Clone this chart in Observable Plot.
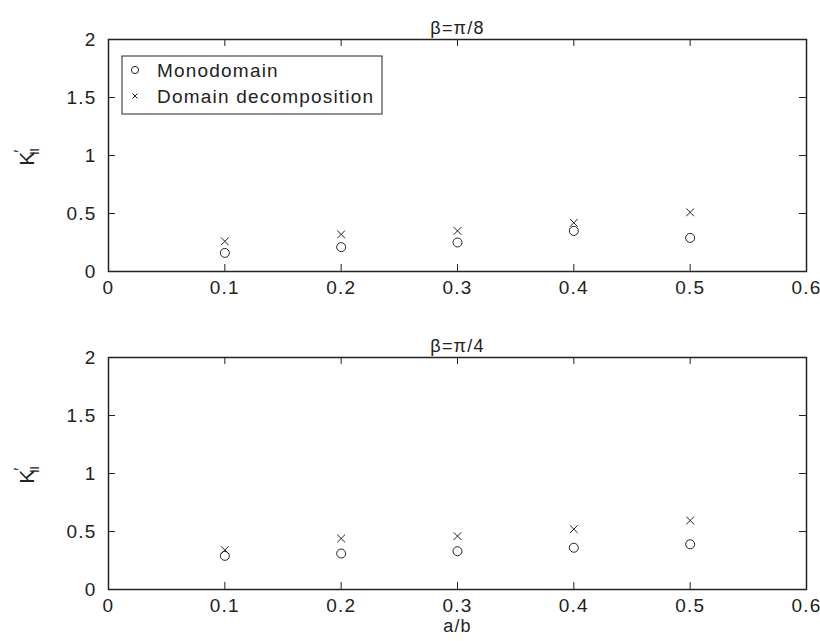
<!DOCTYPE html>
<html><head><meta charset="utf-8">
<script src="https://cdn.jsdelivr.net/npm/d3@7"></script>
<script src="https://cdn.jsdelivr.net/npm/@observablehq/plot@0.6"></script>
<style>
body{margin:0;background:#fff}
#chart{width:820px;height:641px;letter-spacing:1.2px}
#chart svg{display:block}
</style>
</head><body><div id="chart"></div><script>
// ---- data ----
const ratios = [0.1, 0.2, 0.3, 0.4, 0.5];
const monoPi8 = [0.16, 0.21, 0.25, 0.35, 0.29];
const ddPi8   = [0.26, 0.32, 0.35, 0.42, 0.51];
const monoPi4 = [0.29, 0.31, 0.33, 0.36, 0.39];
const ddPi4   = [0.34, 0.44, 0.46, 0.52, 0.595];
const xTicks = [0, 0.1, 0.2, 0.3, 0.4, 0.5, 0.6];
const yTicks = [0, 0.5, 1, 1.5, 2];
const seriesNames = ["Monodomain", "Domain decomposition"];
const panelTitles = ["β=π/8", "β=π/4"];
const xLabel = "a/b";

const INK = "#222";
const FONT = "Liberation Sans, Arial, sans-serif";

function decorations(showLegend) {
  return (index, scales, values, dims) => {
    const g = d3.create("svg:g").attr("fill", INK).attr("font-family", FONT).attr("text-anchor", "start");
    const fx = dims.marginLeft, fy = dims.marginTop;
    const fh = dims.height - dims.marginTop - dims.marginBottom;
    // y label K'_II
    const t = g.append("text")
      .attr("transform", `translate(34,${fy + fh / 2 + 2}) rotate(-90)`)
      .attr("text-anchor", "middle")
      .attr("font-size", 21)
      .attr("letter-spacing", 0);
    t.append("tspan").text("K");
    t.append("tspan").attr("font-size", 16).attr("dy", -8).attr("dx", -1).text("′");
    t.append("tspan").attr("font-size", 12).attr("dx", -5).attr("dy", 13).text("II");
    if (showLegend) {
      const bx = fx + 14, by = fy + 17, bw = 260, bh = 58;
      g.append("rect").attr("x", bx).attr("y", by).attr("width", bw).attr("height", bh)
        .attr("fill", "#fff").attr("stroke", INK).attr("stroke-width", 1);
      const rows = [by + 14, by + 40];
      g.append("circle").attr("cx", bx + 13).attr("cy", rows[0]).attr("r", 3.6)
        .attr("fill", "none").attr("stroke", INK).attr("stroke-width", 1);
      g.append("path").attr("d", `M${bx+10.5},${rows[1]-2.5}L${bx+15.5},${rows[1]+2.5}M${bx+10.5},${rows[1]+2.5}L${bx+15.5},${rows[1]-2.5}`)
        .attr("stroke", INK).attr("stroke-width", 1);
      seriesNames.forEach((name, i) => {
        g.append("text").attr("x", bx + 35).attr("y", rows[i]).attr("dy", "0.35em")
          .attr("text-anchor", "start")
          .attr("font-size", 19).text(name);
      });
    }
    return g.node();
  };
}

function panel({title, mono, dd, height, marginTop, marginBottom, legend, xlab}) {
  const innerH = height - marginTop - marginBottom;
  const innerW = 820 - 108 - 14;
  const monoData = ratios.map((r, i) => ({x: r, y: mono[i]}));
  const ddData = ratios.map((r, i) => ({x: r, y: dd[i]}));
  const marks = [
    Plot.frame({stroke: INK, strokeWidth: 1.5}),
    Plot.tickX(xTicks, {x: d => d, stroke: INK, strokeWidth: 1, insetTop: innerH - 7}),
    Plot.tickX(xTicks, {x: d => d, stroke: INK, strokeWidth: 1, insetBottom: innerH - 7}),
    Plot.tickY(yTicks, {y: d => d, stroke: INK, strokeWidth: 1, insetRight: innerW - 7}),
    Plot.tickY(yTicks, {y: d => d, stroke: INK, strokeWidth: 1, insetLeft: innerW - 7}),
    Plot.axisX({ticks: xTicks, tickSize: 0, tickPadding: 9, tickFormat: d => String(d), label: null, fill: INK}),
    Plot.axisY({ticks: yTicks, tickSize: 0, tickPadding: 12, tickFormat: d => String(d), label: null, fill: INK}),
    Plot.dot(monoData, {x: "x", y: "y", r: 4.5, stroke: INK, strokeWidth: 1, fill: "none"}),
    Plot.dot(ddData, {x: "x", y: "y", r: 3.6, symbol: "times", stroke: INK, strokeWidth: 1}),
    Plot.text([title], {text: d => d, frameAnchor: "top", dy: -18, fontSize: 18, fill: INK}),
    decorations(legend)
  ];
  if (xlab) marks.push(Plot.text([xlab], {text: d => d, frameAnchor: "bottom", dy: 42, fontSize: 18, fill: INK}));
  return Plot.plot({
    width: 820, height,
    marginLeft: 108, marginRight: 14, marginTop, marginBottom,
    style: {fontFamily: FONT, fontSize: "19px", color: INK, background: "#fff", overflow: "visible"},
    x: {domain: [0, 0.6]},
    y: {domain: [0, 2]},
    marks
  });
}

const chart = document.getElementById("chart");
chart.append(panel({title: panelTitles[0], mono: monoPi8, dd: ddPi8, height: 300, marginTop: 39, marginBottom: 29, legend: true, xlab: null}));
chart.append(panel({title: panelTitles[1], mono: monoPi4, dd: ddPi4, height: 341, marginTop: 57, marginBottom: 52, legend: false, xlab: xLabel}));
</script></body></html>
